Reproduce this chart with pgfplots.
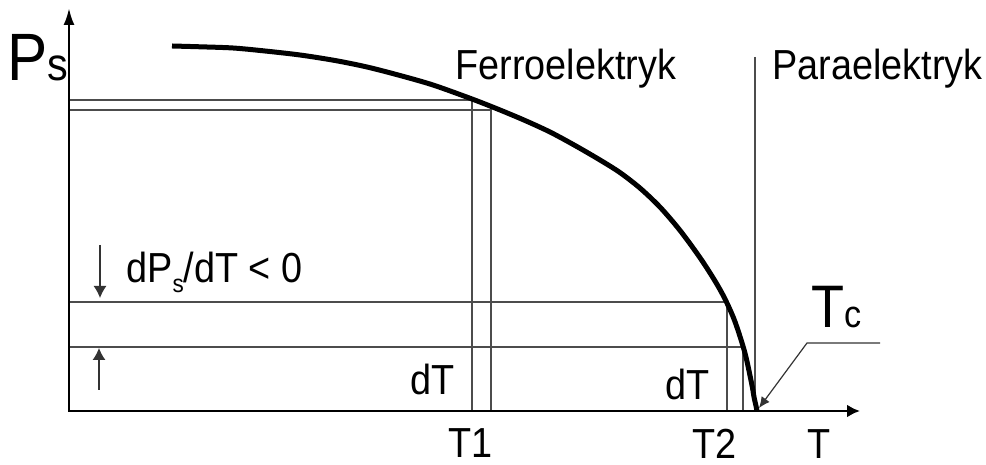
\documentclass[border=0pt]{standalone}
\usepackage{fontspec}
\setmainfont{Liberation Sans}
\usepackage{pgfplots}
\pgfplotsset{compat=1.18}
\usetikzlibrary{arrows.meta}
\newcommand{\nt}[2]{\scalebox{0.9}[1]{\fontsize{#1}{#1}\selectfont #2}}

\begin{document}
\begin{tikzpicture}
\begin{axis}[
    scale only axis, width=493pt, height=232.5pt,
    xmin=0, xmax=986, ymin=0, ymax=465,
    hide axis, clip=false,
    every axis plot/.append style={line cap=butt},
]
% keep the page exactly the size of the axis area
\path (rel axis cs:0,0) rectangle (rel axis cs:1,1);
% thin construction lines
\addplot[black!70, line width=0.6pt] coordinates {(69,365)(472,365)(472,54)};
\addplot[black!70, line width=0.6pt] coordinates {(69,355)(491,355)(491,54)};
\addplot[black!70, line width=0.6pt] coordinates {(69,163)(727,163)(727,54)};
\addplot[black!70, line width=0.6pt] coordinates {(69,118)(743,118)(743,54)};
\addplot[black!70, line width=0.6pt] coordinates {(755,408)(755,54)};
% Tc leader
\addplot[black!80, line width=0.6pt, -{Latex[length=5.5pt, width=5pt]}]
  coordinates {(880,122)(807,122)(759,57)};
% dPs/dT arrows
\addplot[black!80, line width=0.6pt, -{Latex[length=6pt, width=6.5pt]}]
  coordinates {(100,220)(100,167)};
\addplot[black!80, line width=0.6pt, -{Latex[length=6pt, width=6.5pt]}]
  coordinates {(99,75)(99,117)};
% axes
\addplot[black, line width=1.3pt, -{Latex[length=8.5pt, width=5.5pt]}]
  coordinates {(69,53.4)(69,457)};
\addplot[black, line width=1.3pt, -{Latex[length=6.5pt, width=6.5pt]}]
  coordinates {(68.4,54)(860,54)};
% Ps(T)
\addplot[black, line width=2.5pt, smooth, tension=0.5] coordinates {
  (172,419)(200,418.2)(233,417)(265,414)(300,410)(335,404.5)(367,398)
  (400,389.5)(433,380)(472,366)(500,355)(525,344.5)(550,333)(575,319.5)
  (600,305)(620,292.4)(640,276.9)(660,257.9)(680,234.6)(700,207.3)
  (715,184)(725,166)(735,143.3)(745,111.8)(752,79.6)(754,68)(756,59)(757,54)};

\node[anchor=base west, inner sep=0] at (axis cs:7,384)
  {\scalebox{0.9}[1]{\fontsize{33.5}{34}\selectfont P\fontsize{23}{23}\selectfont s}};
\node[anchor=base west, inner sep=0] at (axis cs:455,385) {\nt{21}{Ferroelektryk}};
\node[anchor=base west, inner sep=0] at (axis cs:772,385) {\nt{21}{Paraelektryk}};
\node[anchor=base west, inner sep=0] at (axis cs:126,182)
  {\nt{21}{dP\raisebox{-5pt}{\fontsize{12.5}{13}\selectfont s}/dT < 0}};
\node[anchor=base west, inner sep=0] at (axis cs:410,70) {\nt{21}{dT}};
\node[anchor=base west, inner sep=0] at (axis cs:665,65) {\nt{21}{dT}};
\node[anchor=base west, inner sep=0] at (axis cs:448,7) {\nt{21}{T1}};
\node[anchor=base west, inner sep=0] at (axis cs:692,6) {\nt{21}{T2}};
\node[anchor=base west, inner sep=0] at (axis cs:807,6) {\nt{21}{T}};
\node[anchor=base west, inner sep=0] at (axis cs:811,137)
  {\scalebox{0.9}[1]{\fontsize{30}{30}\selectfont T\fontsize{19}{19}\selectfont c}};
\end{axis}
\end{tikzpicture}
\end{document}
